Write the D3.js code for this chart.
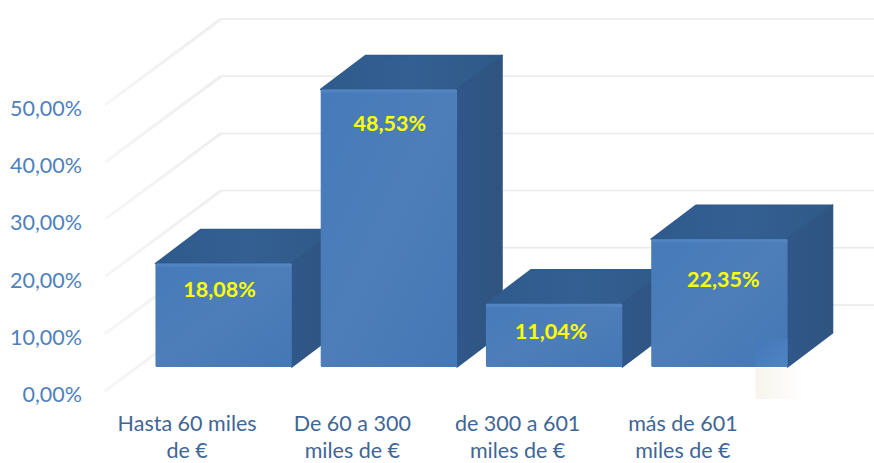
<!DOCTYPE html>
<html><head><meta charset="utf-8">
<script src="https://cdn.jsdelivr.net/npm/d3@7"></script>
<style>html,body{margin:0;padding:0;background:#fff}svg{display:block}text{font-family:Lato,sans-serif}</style>
</head><body><svg id="c" width="874" height="463"></svg>
<script>
const categories = ["Hasta 60 miles|de €","De 60 a 300|miles de €","de 300 a 601|miles de €","más de 601|miles de €"];
const values = [18.08,48.53,11.04,22.35];
const valueLabels = ["18,08%","48,53%","11,04%","22,35%"];
const tickValues = [0,10,20,30,40,50];
const tickLabels = ["0,00%","10,00%","20,00%","30,00%","40,00%","50,00%"];

const W=874,H=463;
const svg=d3.select("#c");
const depthX=45, depthY=34;
const x=d3.scaleBand().domain(categories).range([141,802]).paddingInner(0.175).paddingOuter(0.0875);
const h=d3.scaleLinear().domain([0,50]).range([0,286]);
const base=367, axisBase=395, wallFront=391, wallBack=305;
const labelShift=-36.5;

const defs=svg.append("defs");
const gf=defs.append("linearGradient").attr("id","front").attr("x1",0).attr("x2",1).attr("y1",0).attr("y2",1);
gf.append("stop").attr("offset","0").attr("stop-color","#467aba");
gf.append("stop").attr("offset","0.5").attr("stop-color","#4d7eb9");
gf.append("stop").attr("offset","1").attr("stop-color","#4477b5");
const gt=defs.append("linearGradient").attr("id","top").attr("x1",0).attr("x2",1).attr("y1",0).attr("y2",0);
gt.append("stop").attr("offset","0").attr("stop-color","#2f5a8c");
gt.append("stop").attr("offset","0.5").attr("stop-color","#345f92");
gt.append("stop").attr("offset","1").attr("stop-color","#2f5987");
const gs=defs.append("linearGradient").attr("id","side").attr("x1",0).attr("x2",1).attr("y1",0).attr("y2",0);
gs.append("stop").attr("offset","0").attr("stop-color","#30578a");
gs.append("stop").attr("offset","1").attr("stop-color","#2f547f");
const gw=defs.append("linearGradient").attr("id","wall").attr("gradientUnits","userSpaceOnUse").attr("x1",105).attr("x2",221).attr("y1",0).attr("y2",0);
gw.append("stop").attr("offset","0").attr("stop-color","#f7f6f6");
gw.append("stop").attr("offset","1").attr("stop-color","#eeeeee");

const grid=svg.append("g");
grid.selectAll("line.back").data(tickValues).join("line").attr("class","back")
  .attr("x1",221).attr("x2",W)
  .attr("y1",d=>wallBack-h(d)).attr("y2",d=>wallBack-h(d))
  .attr("stroke","#e9eaec").attr("stroke-width",1.5);
grid.selectAll("line.side").data(tickValues).join("line").attr("class","side")
  .attr("x1",105).attr("x2",221)
  .attr("y1",d=>wallFront-h(d)).attr("y2",d=>wallBack-h(d)+0.01)
  .attr("stroke","url(#wall)").attr("stroke-width",3);

svg.selectAll("text.y").data(tickValues).join("text").attr("class","y")
  .attr("x",82).attr("y",d=>axisBase-h(d)+7).attr("text-anchor","end")
  .attr("font-size",21.5).attr("fill","#4f81bd")
  .text((d,i)=>tickLabels[i]);

const bars=svg.selectAll("g.bar").data(categories).join("g").attr("class","bar");
const poly=p=>p.map(q=>q.join(",")).join(" ");
bars.each(function(c,i){
  const g=d3.select(this);
  const x0=x(c),x1=x0+x.bandwidth(),yt=base-h(values[i]);
  g.append("polygon").attr("points",poly([[x0,yt],[x0+depthX,yt-depthY],[x1+depthX,yt-depthY],[x1,yt]]))
    .attr("fill","url(#top)").attr("stroke","#2f5a8c").attr("stroke-width",1.5).attr("stroke-linejoin","round");
  g.append("polygon").attr("points",poly([[x1,yt],[x1+depthX,yt-depthY],[x1+depthX,base-depthY],[x1,base]]))
    .attr("fill","url(#side)").attr("stroke","#2f5785").attr("stroke-width",1.5).attr("stroke-linejoin","round");
  g.append("rect").attr("x",x0).attr("y",yt).attr("width",x.bandwidth()).attr("height",base-yt)
    .attr("rx",1.5).attr("fill","url(#front)");
  g.append("rect").attr("x",x0).attr("y",yt).attr("width",x.bandwidth()).attr("height",3)
    .attr("fill","#5a8ac6").attr("opacity",0.6);
});

const lastX=x(categories[3])+x.bandwidth();
const ga0=defs.append("linearGradient").attr("id","patch").attr("x1",0).attr("x2",1).attr("y1",0).attr("y2",1);
ga0.append("stop").attr("offset","0").attr("stop-color","#4478b8");
ga0.append("stop").attr("offset","1").attr("stop-color","#5083c2");
svg.append("rect").attr("x",lastX-32).attr("y",base-28).attr("width",32).attr("height",28).attr("fill","url(#patch)");
const ga=defs.append("linearGradient").attr("id","art").attr("x1",0).attr("x2",1).attr("y1",0).attr("y2",0);
ga.append("stop").attr("offset","0").attr("stop-color","#f6f4ec");
ga.append("stop").attr("offset","1").attr("stop-color","#ffffff");
svg.append("rect").attr("x",lastX-32).attr("y",base+1).attr("width",50).attr("height",31).attr("fill","url(#art)");

const labelDrop=[33,42,35,48];
svg.selectAll("text.v").data(valueLabels).join("text").attr("class","v")
  .attr("x",(d,i)=>x(categories[i])+x.bandwidth()/2+[-4,1,-3,4][i])
  .attr("y",(d,i)=>base-h(values[i])+labelDrop[i])
  .attr("text-anchor","middle").attr("font-size",21.5).attr("font-weight",700).attr("fill","#ffff00")
  .text(d=>d);

const cats=svg.selectAll("text.c").data(categories).join("text").attr("class","c")
  .attr("text-anchor","middle").attr("font-size",21.5).attr("fill","#3f6695");
cats.each(function(c){
  const t=d3.select(this);
  c.split("|").forEach((s,j)=>t.append("tspan")
    .attr("x",x(c)+x.bandwidth()/2+labelShift).attr("y",431+j*26.5).text(s));
});
</script></body></html>
